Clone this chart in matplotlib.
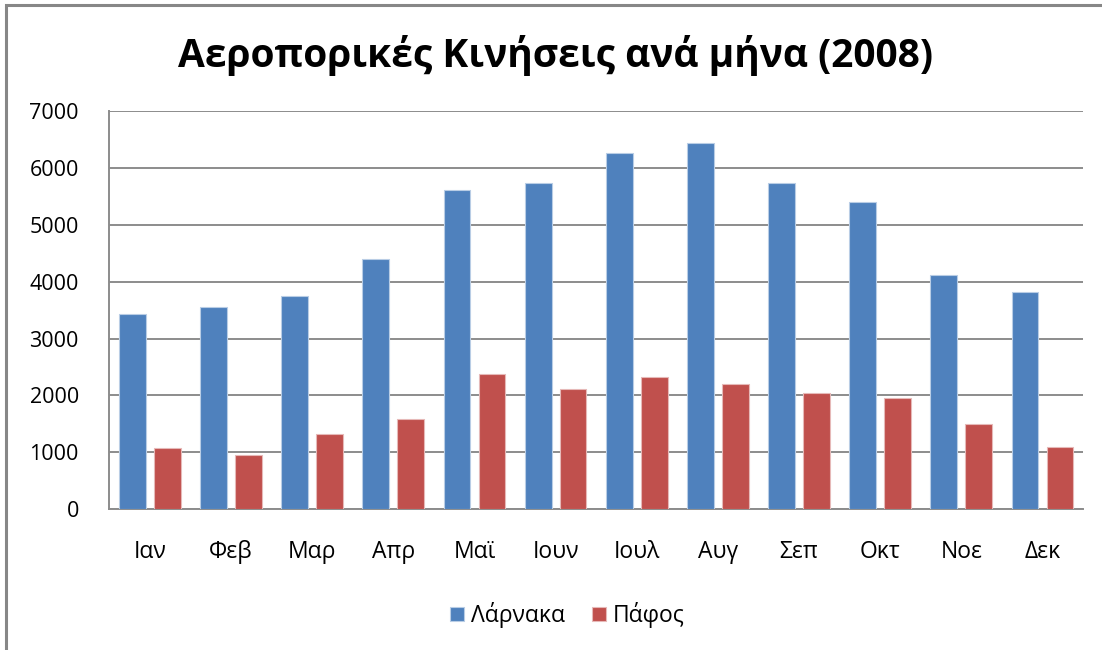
import matplotlib.pyplot as plt
import matplotlib.patches as mpatches
import numpy as np

plt.rcParams['font.family'] = ['Open Sans', 'DejaVu Sans']

months = ['Ιαν', 'Φεβ', 'Μαρ', 'Απρ', 'Μαϊ', 'Ιουν', 'Ιουλ', 'Αυγ', 'Σεπ', 'Οκτ', 'Νοε', 'Δεκ']
larnaka = [3440, 3550, 3750, 4400, 5620, 5740, 6260, 6440, 5740, 5400, 4120, 3820]
pafos = [1070, 960, 1320, 1590, 2380, 2110, 2320, 2200, 2040, 1950, 1500, 1100]

fig = plt.figure(figsize=(11.02, 6.5), dpi=100)
ax = fig.add_axes([0.0992, 0.2165, 0.8836, 0.6127])

# outer chart frame (top and left edges visible)
fig.patches.append(mpatches.Rectangle((6 / 1102, -0.1), 1.2, 1 - 4.5 / 650 + 0.1,
                                      transform=fig.transFigure, fill=False,
                                      edgecolor='#878787', linewidth=2.2))

x = np.arange(len(months))
w = 0.33
off = 0.215
ax.bar(x - off, larnaka, w, color='#4F81BD', edgecolor='#B9CDE5', linewidth=0.8,
       label='Λάρνακα', zorder=3)
ax.bar(x + off, pafos, w, color='#C0504D', edgecolor='#E6B9B8', linewidth=0.8,
       label='Πάφος', zorder=3)

ax.set_xlim(-0.5, len(months) - 0.5)
ax.set_ylim(0, 7000)
ax.set_yticks(range(0, 7001, 1000))
ax.set_xticks(x)
ax.set_xticklabels(months)
ax.tick_params(axis='y', length=0, labelsize=15.5, colors='black', pad=22)
ax.tick_params(axis='x', length=0, labelsize=16.5, colors='black', pad=22)

ax.grid(axis='y', color='#8C8C8C', linewidth=1.4, zorder=0)
for s in ['top', 'right']:
    ax.spines[s].set_visible(False)
ax.spines['left'].set_color('#8C8C8C')
ax.spines['left'].set_linewidth(1.4)
ax.spines['bottom'].set_color('#8C8C8C')
ax.spines['bottom'].set_linewidth(1.4)

fig.text(0.504, 1 - 56 / 650, 'Αεροπορικές Κινήσεις ανά μήνα (2008)',
         ha='center', va='center', fontsize=28, fontweight='bold')

fig.legend(loc='center', bbox_to_anchor=(0.515, 1 - 615 / 650), ncol=2, frameon=False,
           fontsize=16.5, handlelength=0.6, handleheight=0.6, handletextpad=0.3,
           columnspacing=1.2)

fig.savefig('out.png', dpi=100)
